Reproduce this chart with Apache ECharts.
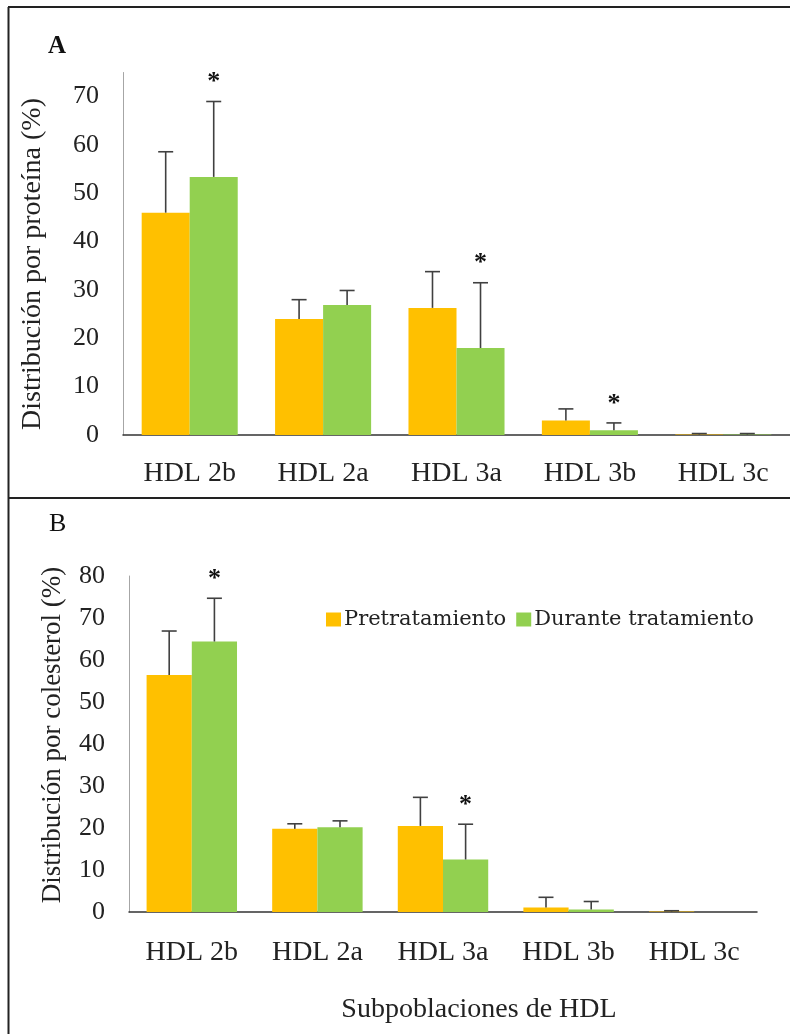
<!DOCTYPE html>
<html>
<head>
<meta charset="utf-8">
<script src="https://cdn.jsdelivr.net/npm/echarts@6/dist/echarts.min.js"></script>
<style>html,body{margin:0;padding:0;background:#fff}#c{width:790px;height:1034px}</style>
</head>
<body>
<div id="c"></div>
<script>
const categories = ['HDL 2b', 'HDL 2a', 'HDL 3a', 'HDL 3b', 'HDL 3c'];
const seriesNames = ['Pretratamiento', 'Durante tratamiento'];
// Panel A: distribution by protein (%)
const protPre    = [46.0, 24.0, 26.3, 3.0, 0.1];
const protPreErr = [12.6, 4.0, 7.5, 2.4, 0.2];
const protDur    = [53.4, 26.9, 18.0, 1.0, 0.1];
const protDurErr = [15.6, 3.0, 13.5, 1.5, 0.2];
const protSig    = [1, 0, 1, 1, 0];
// Panel B: distribution by cholesterol (%)
const colPre    = [56.4, 19.8, 20.5, 1.1, 0.1];
const colPreErr = [10.5, 1.2, 6.8, 2.4, 0.2];
const colDur    = [64.4, 20.2, 12.5, 0.6, 0];
const colDurErr = [10.3, 1.5, 8.4, 1.9, 0];
const colSig    = [1, 0, 1, 0, 0];
const yTicksA = [0, 10, 20, 30, 40, 50, 60, 70];
const yTicksB = [0, 10, 20, 30, 40, 50, 60, 70, 80];

const FONT = '"Liberation Serif", "DejaVu Serif", serif';
const WIDE = '"DejaVu Serif", serif';
const ORANGE = '#FFC000', GREEN = '#92D050', ERR = '#404040';
const GAP = 0.28;

function errData(pre, preErr, dur, durErr, sig) {
  return categories.map((c, i) => [i, pre[i], preErr[i], dur[i], durErr[i], sig[i]]);
}
function renderErr(params, api) {
  const i = api.value(0);
  const center = api.coord([i, 0]);
  const catW = api.size([1, 0])[0];
  const bw = catW * (1 - GAP) / 2;
  const children = [];
  const cap = 15;
  const bars = [[api.value(1), api.value(2), center[0] - bw / 2], [api.value(3), api.value(4), center[0] + bw / 2]];
  let greenTop = null;
  bars.forEach((b, k) => {
    const v = b[0], e = b[1], x = b[2];
    const y0 = api.coord([i, v])[1];
    const y1 = api.coord([i, v + e])[1];
    if (k === 1) greenTop = y1;
    if (e <= 0) return;
    children.push({ type: 'line', shape: { x1: x, y1: y0, x2: x, y2: y1 }, style: { stroke: ERR, lineWidth: 1.6 } });
    children.push({ type: 'line', shape: { x1: x - cap / 2, y1: y1, x2: x + cap / 2, y2: y1 }, style: { stroke: ERR, lineWidth: 1.6 } });
  });
  if (api.value(5)) {
    children.push({ type: 'text', style: { text: '*', x: center[0] + bw / 2, y: greenTop - 19, align: 'center', verticalAlign: 'middle', font: 'bold 26px ' + FONT, fill: '#111' } });
  }
  return { type: 'group', children };
}

function yAxis(gridIndex, max, ticks) {
  return {
    type: 'value', gridIndex, min: 0, max, interval: 10,
    axisLine: { show: true, lineStyle: { color: '#a6a6a6', width: 1 } },
    axisTick: { show: false }, splitLine: { show: false },
    axisLabel: { showMaxLabel: ticks.indexOf(max) >= 0, margin: 24, color: '#222', fontFamily: FONT, fontSize: 26,
      formatter: v => (ticks.indexOf(v) >= 0 ? String(v) : '') }
  };
}
function xAxis(gridIndex, margin) {
  return {
    type: 'category', gridIndex, data: categories,
    axisLine: { show: true, lineStyle: { color: '#333', width: 1.5 } },
    axisTick: { show: false },
    axisLabel: { margin, color: '#222', fontFamily: FONT, fontSize: 28, interval: 0 }
  };
}
function bar(name, data, color, idx) {
  return { name, type: 'bar', xAxisIndex: idx, yAxisIndex: idx, data, barGap: '0%', barCategoryGap: (GAP * 100) + '%',
    itemStyle: { color }, emphasis: { disabled: true } };
}

const chart = echarts.init(document.getElementById('c'), null, { renderer: 'canvas' });
chart.setOption({
  animation: false,
  backgroundColor: '#fff',
  grid: [
    { left: 123, top: 72.5, width: 667, height: 362.5 },
    { left: 129, top: 576, width: 628, height: 336 }
  ],
  xAxis: [xAxis(0, 25), xAxis(1, 27)],
  yAxis: [yAxis(0, 75, yTicksA), yAxis(1, 80, yTicksB)],
  legend: {
    data: seriesNames, left: 321, top: 604, icon: 'rect', itemWidth: 15, itemHeight: 14, itemGap: 10,
    textStyle: { fontFamily: WIDE, fontSize: 21, color: '#222', padding: [0, 0, 0, -2] }
  },
  series: [
    bar(seriesNames[0], protPre, ORANGE, 0),
    bar(seriesNames[1], protDur, GREEN, 0),
    bar(seriesNames[0], colPre, ORANGE, 1),
    bar(seriesNames[1], colDur, GREEN, 1),
    { type: 'custom', xAxisIndex: 0, yAxisIndex: 0, z: 10, renderItem: renderErr,
      data: errData(protPre, protPreErr, protDur, protDurErr, protSig), silent: true },
    { type: 'custom', xAxisIndex: 1, yAxisIndex: 1, z: 10, renderItem: renderErr,
      data: errData(colPre, colPreErr, colDur, colDurErr, colSig), silent: true }
  ],
  graphic: [
    { type: 'line', shape: { x1: 8, y1: 7, x2: 790, y2: 7 }, style: { stroke: '#222', lineWidth: 2 } },
    { type: 'line', shape: { x1: 8.5, y1: 7, x2: 8.5, y2: 1034 }, style: { stroke: '#222', lineWidth: 2 } },
    { type: 'line', shape: { x1: 8, y1: 498, x2: 790, y2: 498 }, style: { stroke: '#222', lineWidth: 2 } },
    { type: 'text', left: 48, top: 34, style: { text: 'A', font: 'bold 25px ' + FONT, fill: '#111' } },
    { type: 'text', left: 49, top: 511, style: { text: 'B', font: '26px ' + FONT, fill: '#111' } },
    { type: 'text', x: 33, y: 264, rotation: Math.PI / 2,
      style: { text: 'Distribución por proteína (%)', font: '28px ' + FONT, fill: '#222', align: 'center', verticalAlign: 'middle' } },
    { type: 'text', x: 53, y: 735, rotation: Math.PI / 2,
      style: { text: 'Distribución por colesterol (%)', font: '27px ' + FONT, fill: '#222', align: 'center', verticalAlign: 'middle' } },
    { type: 'text', x: 479, y: 1010,
      style: { text: 'Subpoblaciones de HDL', font: '28px ' + FONT, fill: '#222', align: 'center', verticalAlign: 'middle' } }
  ]
});
</script>
</body>
</html>
